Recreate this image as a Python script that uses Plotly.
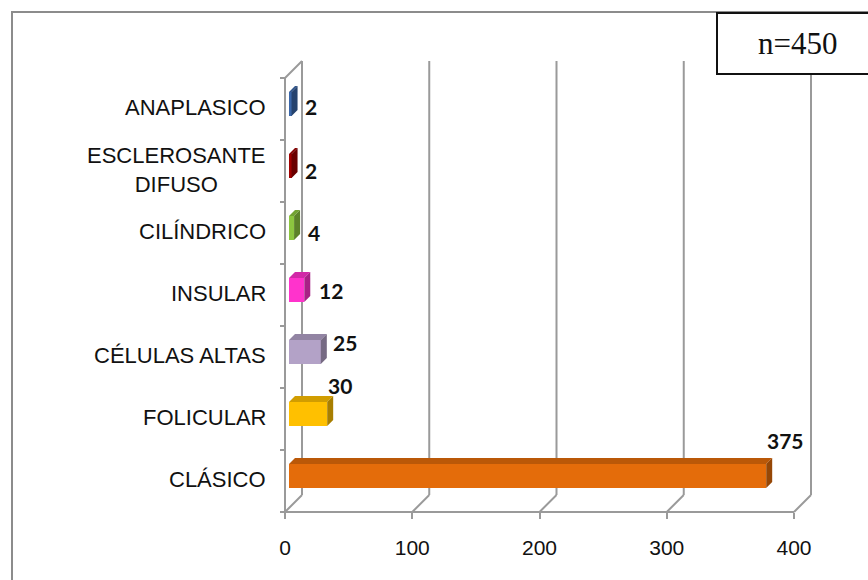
import plotly.graph_objects as go

# ---------------- data (bottom to top) ----------------
categories = ["CLÁSICO", "FOLICULAR", "CÉLULAS ALTAS", "INSULAR",
              "CILÍNDRICO", "ESCLEROSANTE<br>DIFUSO", "ANAPLASICO"]
values = [375, 30, 25, 12, 4, 2, 2]
x_ticks = [0, 100, 200, 300, 400]
note_text = "n=450"

# ---------------- style ----------------
colors = ["#E46C0A", "#FFC000", "#B3A2C7", "#FF33CC", "#8CC63F", "#A00000", "#3A66A8"]
# label offsets in px (right, up) from bar end
label_dx = [19, 13, 24, 27, 20, 19, 19]
label_dy = [41, 34, 15, 5, 1, 1, 3]

W, H = 868, 580
L, RPX, T, B = 285, 820, 62, 512
PXU = 1.2725          # px per value unit
ROW = 62              # px per category
D = 17                # wall depth in px
BAR_DX, BAR_DY = 6, 6  # bar depth px
BASE = 4 / PXU        # bars sit slightly inside the box
BAR_W = 24 / ROW
BAR_OFF = 5 / ROW - BAR_W / 2

xmax = (RPX - L) / PXU
ymin = -0.5
ymax = ymin + (B - T) / ROW

def px(xp):
    return (xp - L) / (RPX - L)

def py(yp):
    return (B - yp) / (B - T)

def xpx(v):
    return L + v * PXU

GRAY = "#9a9a9a"


def shade(hexc, f):
    hexc = hexc.lstrip("#")
    r, g, b = (int(hexc[i:i + 2], 16) for i in (0, 2, 4))
    return "rgb(%d,%d,%d)" % (r * f, g * f, b * f)


fig = go.Figure()

idx = list(range(len(categories)))
fig.add_trace(go.Bar(
    y=idx, x=values, base=BASE, orientation="h",
    width=BAR_W, offset=BAR_OFF,
    marker=dict(color=colors, line=dict(width=0)),
    showlegend=False, hoverinfo="x",
))

dxu = BAR_DX / PXU
dyu = BAR_DY / ROW
for i, v in enumerate(values):
    y0 = i + BAR_OFF
    y1 = y0 + BAR_W
    b0 = BASE
    # top face
    fig.add_trace(go.Scatter(
        x=[b0, b0 + v, b0 + v + dxu, b0 + dxu, b0],
        y=[y1, y1, y1 + dyu, y1 + dyu, y1],
        fill="toself", mode="lines", line=dict(width=0),
        fillcolor=shade(colors[i], 0.82), showlegend=False, hoverinfo="skip"))
    # side face
    fig.add_trace(go.Scatter(
        x=[b0 + v, b0 + v + dxu, b0 + v + dxu, b0 + v, b0 + v],
        y=[y0, y0 + dyu, y1 + dyu, y1, y0],
        fill="toself", mode="lines", line=dict(width=0),
        fillcolor=shade(colors[i], 0.66), showlegend=False, hoverinfo="skip"))

shapes = []

def line(x0, y0, x1, y1, color=GRAY, width=2, layer="below"):
    shapes.append(dict(type="line", xref="paper", yref="paper",
                       x0=px(x0), y0=py(y0), x1=px(x1), y1=py(y1),
                       line=dict(color=color, width=width), layer=layer))

n = len(categories)
top_front = B - n * ROW
# front y axis
line(L, B, L, top_front)
for k in range(n + 1):
    line(L - 5, B - k * ROW, L, B - k * ROW)
# top-left diagonal
line(L, top_front, L + D, top_front - D)
# bottom axis
line(L, B, xpx(x_ticks[-1]), B)
for v in x_ticks:
    line(xpx(v), B, xpx(v) + D, B - D)
    line(xpx(v) + D, B - D, xpx(v) + D, top_front - D)

# outer border
shapes.append(dict(type="rect", xref="paper", yref="paper",
                   x0=px(12), y0=py(12), x1=px(900), y1=py(620),
                   line=dict(color="#8c8c8c", width=2), layer="below"))
# n box
shapes.append(dict(type="rect", xref="paper", yref="paper",
                   x0=px(717), y0=py(13), x1=px(885), y1=py(74),
                   line=dict(color="#111111", width=2), fillcolor="white",
                   layer="above"))

annotations = []
for i, c in enumerate(categories):
    annotations.append(dict(
        x=0, xref="paper", y=i + 0.02, yref="y", text=c, showarrow=False,
        xanchor="right", yanchor="middle", xshift=-17, align="center",
        font=dict(family="Liberation Sans, Arial, sans-serif", size=22, color="#111111")))

for i, v in enumerate(values):
    annotations.append(dict(
        x=BASE + v, xref="x", y=i, yref="y", text="<b>%d</b>" % v, showarrow=False,
        xanchor="center", yanchor="middle", xshift=label_dx[i], yshift=label_dy[i],
        font=dict(family="Lato, Open Sans, sans-serif", size=21, color="#111111")))

annotations.append(dict(
    x=px(797), xref="paper", y=py(44), yref="paper", text=note_text, showarrow=False,
    xanchor="center", yanchor="middle",
    font=dict(family="Liberation Serif, DejaVu Serif, serif", size=31, color="#111111")))

fig.update_layout(
    width=W, height=H,
    margin=dict(l=L, r=W - RPX, t=T, b=H - B),
    paper_bgcolor="white", plot_bgcolor="rgba(0,0,0,0)",
    shapes=shapes, annotations=annotations,
    xaxis=dict(range=[0, xmax], tickvals=x_ticks, ticks="outside", ticklen=6,
               tickwidth=2, tickcolor=GRAY, showgrid=False, zeroline=False,
               showline=False, ticklabelstandoff=11,
               tickfont=dict(family="Liberation Sans, Arial, sans-serif", size=21, color="#111111")),
    yaxis=dict(range=[ymin, ymax], showticklabels=False, ticks="", showgrid=False,
               zeroline=False, showline=False),
    bargap=0,
)

fig.write_html("out.html")
